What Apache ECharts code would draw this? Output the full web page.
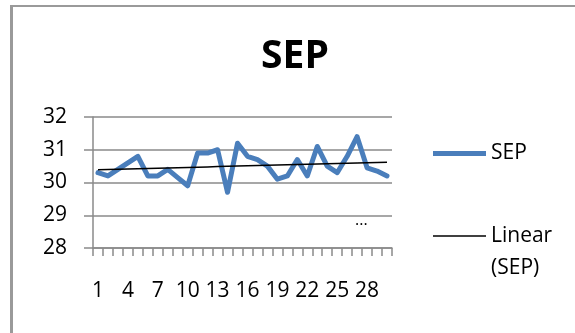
<!DOCTYPE html>
<html>
<head>
<meta charset="utf-8">
<script src="https://cdn.jsdelivr.net/npm/echarts@6/dist/echarts.min.js"></script>
<style>
html,body{margin:0;padding:0;background:#fff;}
#chart{width:575px;height:333px;}
</style>
</head>
<body>
<div id="chart"></div>
<script>
const chartTitle = 'SEP';
const days = ['1','2','3','4','5','6','7','8','9','10','11','12','13','14','15','16','17','18','19','20','21','22','23','24','25','26','27','28','29','30'];
const sepValues = [30.3, 30.2, 30.4, 30.6, 30.8, 30.2, 30.2, 30.4, 30.15, 29.9, 30.9, 30.9, 31.0, 29.7, 31.2, 30.8, 30.7, 30.5, 30.1, 30.2, 30.7, 30.2, 31.1, 30.5, 30.3, 30.8, 31.4, 30.45, 30.35, 30.2];
const yTicks = [28, 29, 30, 31, 32];
const seriesName = 'SEP';
const trendName = 'Linear (SEP)';

// least-squares linear trend computed from the data
const n = sepValues.length;
let sx = 0, sy = 0, sxy = 0, sxx = 0;
sepValues.forEach((v, i) => { const x = i + 1; sx += x; sy += v; sxy += x * v; sxx += x * x; });
const slope = (n * sxy - sx * sy) / (n * sxx - sx * sx);
const intercept = (sy - slope * sx) / n;
const trendValues = sepValues.map((v, i) => +(intercept + slope * (i + 1)).toFixed(4));

const FONT = 'Open Sans';
const chart = echarts.init(document.getElementById('chart'), null, {renderer: 'canvas'});
chart.setOption({
  animation: false,
  backgroundColor: '#ffffff',
  title: {
    text: chartTitle,
    left: 295,
    top: 37,
    textAlign: 'center',
    padding: 0,
    textStyle: {fontFamily: FONT, fontWeight: 'bold', fontSize: 39, color: '#000'}
  },
  grid: {left: 93, right: 183, top: 117, bottom: 85, containLabel: false},
  xAxis: {
    type: 'category',
    data: days,
    boundaryGap: true,
    axisLine: {lineStyle: {color: '#8a8a8a', width: 1.5}},
    axisTick: {show: true, interval: 0, length: 8, lineStyle: {color: '#8a8a8a', width: 1.5}},
    axisLabel: {interval: 2, margin: 33, fontFamily: FONT, fontSize: 21, color: '#000'},
    splitLine: {show: false}
  },
  yAxis: {
    type: 'value',
    min: yTicks[0],
    max: yTicks[yTicks.length - 1],
    interval: 1,
    axisLine: {show: true, lineStyle: {color: '#8a8a8a', width: 1.5}},
    axisTick: {show: true, length: 9, lineStyle: {color: '#8a8a8a', width: 1.5}},
    axisLabel: {margin: 26, fontFamily: FONT, fontSize: 21, color: '#000'},
    splitLine: {show: true, lineStyle: {color: '#8a8a8a', width: 1.5}}
  },
  legend: [
    {
      left: 433,
      top: 143,
      padding: 0,
      itemWidth: 53,
      itemHeight: 5,
      selectedMode: false,
      textStyle: {fontFamily: FONT, fontSize: 21, color: '#000'},
      data: [{name: seriesName, icon: 'rect', itemStyle: {color: '#4A7EBB'}}]
    },
    {
      left: 433,
      top: 188,
      padding: 0,
      itemWidth: 53,
      itemHeight: 1.5,
      selectedMode: false,
      textStyle: {fontFamily: FONT, fontSize: 21, color: '#000', lineHeight: 32},
      formatter: function () { return '\nLinear\n(SEP)'; },
      data: [{name: trendName, icon: 'rect', itemStyle: {color: '#000'}}]
    }
  ],
  series: [
    {
      name: seriesName,
      type: 'line',
      data: sepValues,
      symbol: 'none',
      lineStyle: {color: '#4A7EBB', width: 5, join: 'round', cap: 'round'},
      itemStyle: {color: '#4A7EBB'},
      z: 2
    },
    {
      name: trendName,
      type: 'line',
      data: trendValues,
      symbol: 'none',
      lineStyle: {color: '#000', width: 1.5},
      itemStyle: {color: '#000'},
      z: 3
    }
  ],
  graphic: [
    {type: 'line', shape: {x1: 11.5, y1: 5, x2: 11.5, y2: 340}, style: {stroke: '#9a9a9a', lineWidth: 3}, silent: true},
    {type: 'line', shape: {x1: 10, y1: 6, x2: 580, y2: 6}, style: {stroke: '#9a9a9a', lineWidth: 2}, silent: true},
    {type: 'text', left: 355, top: 212, style: {text: '...', font: '16px "Open Sans"', fill: '#000'}, silent: true}
  ]
});
</script>
</body>
</html>
